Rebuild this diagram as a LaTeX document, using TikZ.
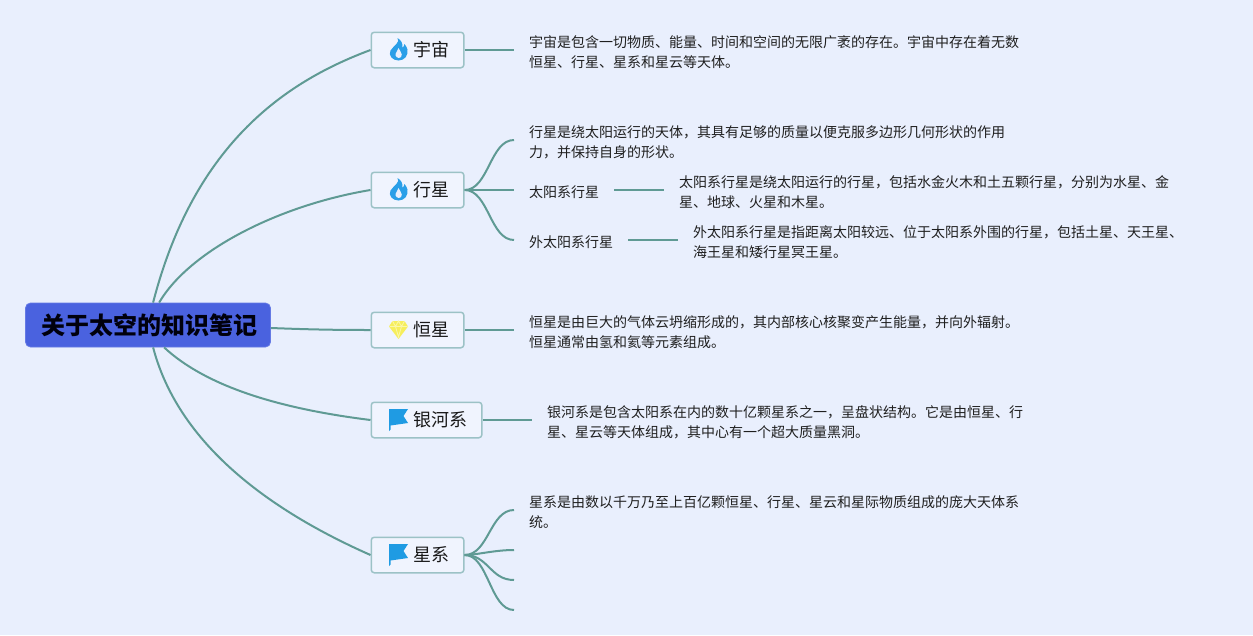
\documentclass[tikz,border=0pt]{standalone}
\usepackage{fontspec}
\setmainfont{Noto Sans CJK SC}
\definecolor{bgc}{HTML}{E9EFFD}
\definecolor{linkc}{HTML}{5F9A94}
\definecolor{boxb}{HTML}{9CC2C6}
\definecolor{rootc}{HTML}{4A62DF}
\definecolor{flamec}{HTML}{2A9FE8}
\definecolor{flagc}{HTML}{1F9BE3}
\definecolor{gemc}{HTML}{F6EE5C}
\definecolor{gemd}{HTML}{FBF7A8}
\tikzset{
  rootbox/.style={draw=rootc!85!white,line width=.8pt,fill=rootc,rounded corners=5pt,minimum width=245pt,minimum height=44pt,inner sep=0pt,text=black!95!blue,font=\fontsize{24}{28}\selectfont\bfseries},
  topicbox/.style={draw=boxb,line width=1.5pt,fill=bgc!70!white,rounded corners=3pt,minimum height=35.5pt,inner xsep=14.3pt,inner ysep=0pt,text=black!90,font=\fontsize{18}{22}\selectfont},
  notetext/.style={align=left,inner xsep=15pt,inner ysep=0pt,anchor=west,text=black!88,font=\fontsize{14}{20}\selectfont},
  link/.style={draw=linkc,line width=2pt},
  flameicon/.pic={\fill[flamec] (-1,-11.5) .. controls (2,-7) and (-4,-5) .. (-8,1) .. controls (-10.5,6) and (-6,11) .. (0,11) .. controls (6,11) and (10,6) .. (9,0) .. controls (8.5,-2) and (7.5,-3.5) .. (6,-5.5) .. controls (5.5,-3.5) and (5,-2.5) .. (4,-2) .. controls (4.5,-6) and (2.5,-9.5) .. (-1,-11.5) -- cycle;
    \fill[bgc] (.3,8.5) .. controls (-3,8) and (-3.8,5) .. (-2,2.5) .. controls (-1,1.3) and (-.3,.2) .. (0,-1.5) .. controls (1,1) and (3,2.5) .. (3.3,5) .. controls (3.5,7) and (2,8.7) .. (.3,8.5) -- cycle;},
  gemicon/.pic={\fill[gemc] (-6,-9) -- (6,-9) -- (9.5,-3.5) -- (0,9) -- (-9.5,-3.5) -- cycle;
    \draw[gemd,line width=.8pt] (-9,-3.5) -- (9,-3.5) (-3,-3.5) -- (0,7) -- (3,-3.5) (-6,-9) -- (-3,-3.5) -- (0,-9) -- (3,-3.5) -- (6,-9);},
  flagicon/.pic={\fill[flagc] (-9.5,-11) -- (9.5,-11) -- (5,-4) -- (9.5,3) -- (-8,5.5) -- (-8,9.5) -- (-9.5,11) -- cycle;}
}
\begin{document}
\begin{tikzpicture}[x=1pt,y=-1pt]
\fill[bgc] (0,0) rectangle (1253,635);
\useasboundingbox (0,0) rectangle (1253,635);

\node[rootbox] (root) at (148,325) {\raisebox{-2.5pt}{\hspace*{3pt}关于太空的知识笔记}};

\node[topicbox,anchor=west] (yz) at (370.5,50) {\raisebox{-2pt}{\hspace*{28pt}宇宙}};
\node[topicbox,anchor=west] (xx) at (370.5,190) {\raisebox{-2pt}{\hspace*{28pt}行星}};
\node[topicbox,anchor=west] (hx) at (370.5,330) {\raisebox{-2pt}{\hspace*{28pt}恒星}};
\node[topicbox,anchor=west] (yh) at (370.5,420) {\raisebox{-2pt}{\hspace*{28pt}银河系}};
\node[topicbox,anchor=west] (xi) at (370.5,555) {\raisebox{-2pt}{\hspace*{28pt}星系}};

\pic at (398.5,49.5) {flameicon};
\pic at (398.5,189.5) {flameicon};
\pic at (398.5,330) {gemicon};
\pic at (398.5,420) {flagicon};
\pic at (398.5,555) {flagicon};

\node[notetext] (yzt) at (514,52) {宇宙是包含一切物质、能量、时间和空间的无限广袤的存在。宇宙中存在着无数\\恒星、行星、星系和星云等天体。};
\node[notetext] (xxa) at (514,142) {行星是绕太阳运行的天体，其具有足够的质量以便克服多边形几何形状的作用\\力，并保持自身的形状。};
\node[notetext] (xxb) at (514,192) {太阳系行星};
\node[notetext] (xxc) at (514,242) {外太阳系行星};
\node[notetext] (xxbt) at (664,192) {太阳系行星是绕太阳运行的行星，包括水金火木和土五颗行星，分别为水星、金\\星、地球、火星和木星。};
\node[notetext] (xxct) at (678,242) {外太阳系行星是指距离太阳较远、位于太阳系外围的行星，包括土星、天王星、\\海王星和矮行星冥王星。};
\node[notetext] (hxt) at (514,332) {恒星是由巨大的气体云坍缩形成的，其内部核心核聚变产生能量，并向外辐射。\\恒星通常由氢和氦等元素组成。};
\node[notetext] (yht) at (532,422.5) {银河系是包含太阳系在内的数十亿颗星系之一，呈盘状结构。它是由恒星、行\\星、星云等天体组成，其中心有一个超大质量黑洞。};
\node[notetext] (xit) at (514,512) {星系是由数以千万乃至上百亿颗恒星、行星、星云和星际物质组成的庞大天体系\\统。};

\coordinate (xi2) at (514,550);
\coordinate (xi3) at (514,580);
\coordinate (xi4) at (514,610);

% root to topics
\draw[link] ([xshift=128pt]root.north west) .. controls (195,140) and (290,80) .. (yz.west);
\draw[link] ([xshift=134pt]root.north west) .. controls (190,250) and (280,205) .. (xx.west);
\draw[link] ([yshift=-3pt]root.east) .. controls (310,329.5) and (335,330) .. (hx.west);
\draw[link] ([xshift=139pt]root.south west) .. controls (210,390) and (290,410) .. (yh.west);
\draw[link] ([xshift=128pt]root.south west) .. controls (180,450) and (280,515) .. (xi.west);

% topic to notes
\draw[link] (yz.east) -- (yz.east -| yzt.west);
\draw[link] (hx.east) -- (hx.east -| hxt.west);
\draw[link] (yh.east) -- (yh.east -| yht.west);
\draw[link] (xx.east) .. controls +(24,0) and +(-24,0) .. ([yshift=2pt]xxa.west);
\draw[link] (xx.east) -- (xx.east -| xxb.west);
\draw[link] (xx.east) .. controls +(24,0) and +(-24,0) .. ([yshift=2pt]xxc.west);
\draw[link] (xxb.east |- xx.east) -- (xxbt.west |- xx.east);
\draw[link] ([yshift=2pt]xxc.east) -- ([yshift=2pt]xxct.west);
\draw[link] (xi.east) .. controls +(24,0) and +(-24,0) .. ([yshift=2pt]xit.west);
\draw[link] (xi.east) .. controls +(12,0) and +(-20,0) .. (xi2);
\draw[link] (xi.east) .. controls +(24,0) and +(-24,0) .. (xi3);
\draw[link] (xi.east) .. controls +(24,0) and +(-24,0) .. (xi4);
\end{tikzpicture}
\end{document}
